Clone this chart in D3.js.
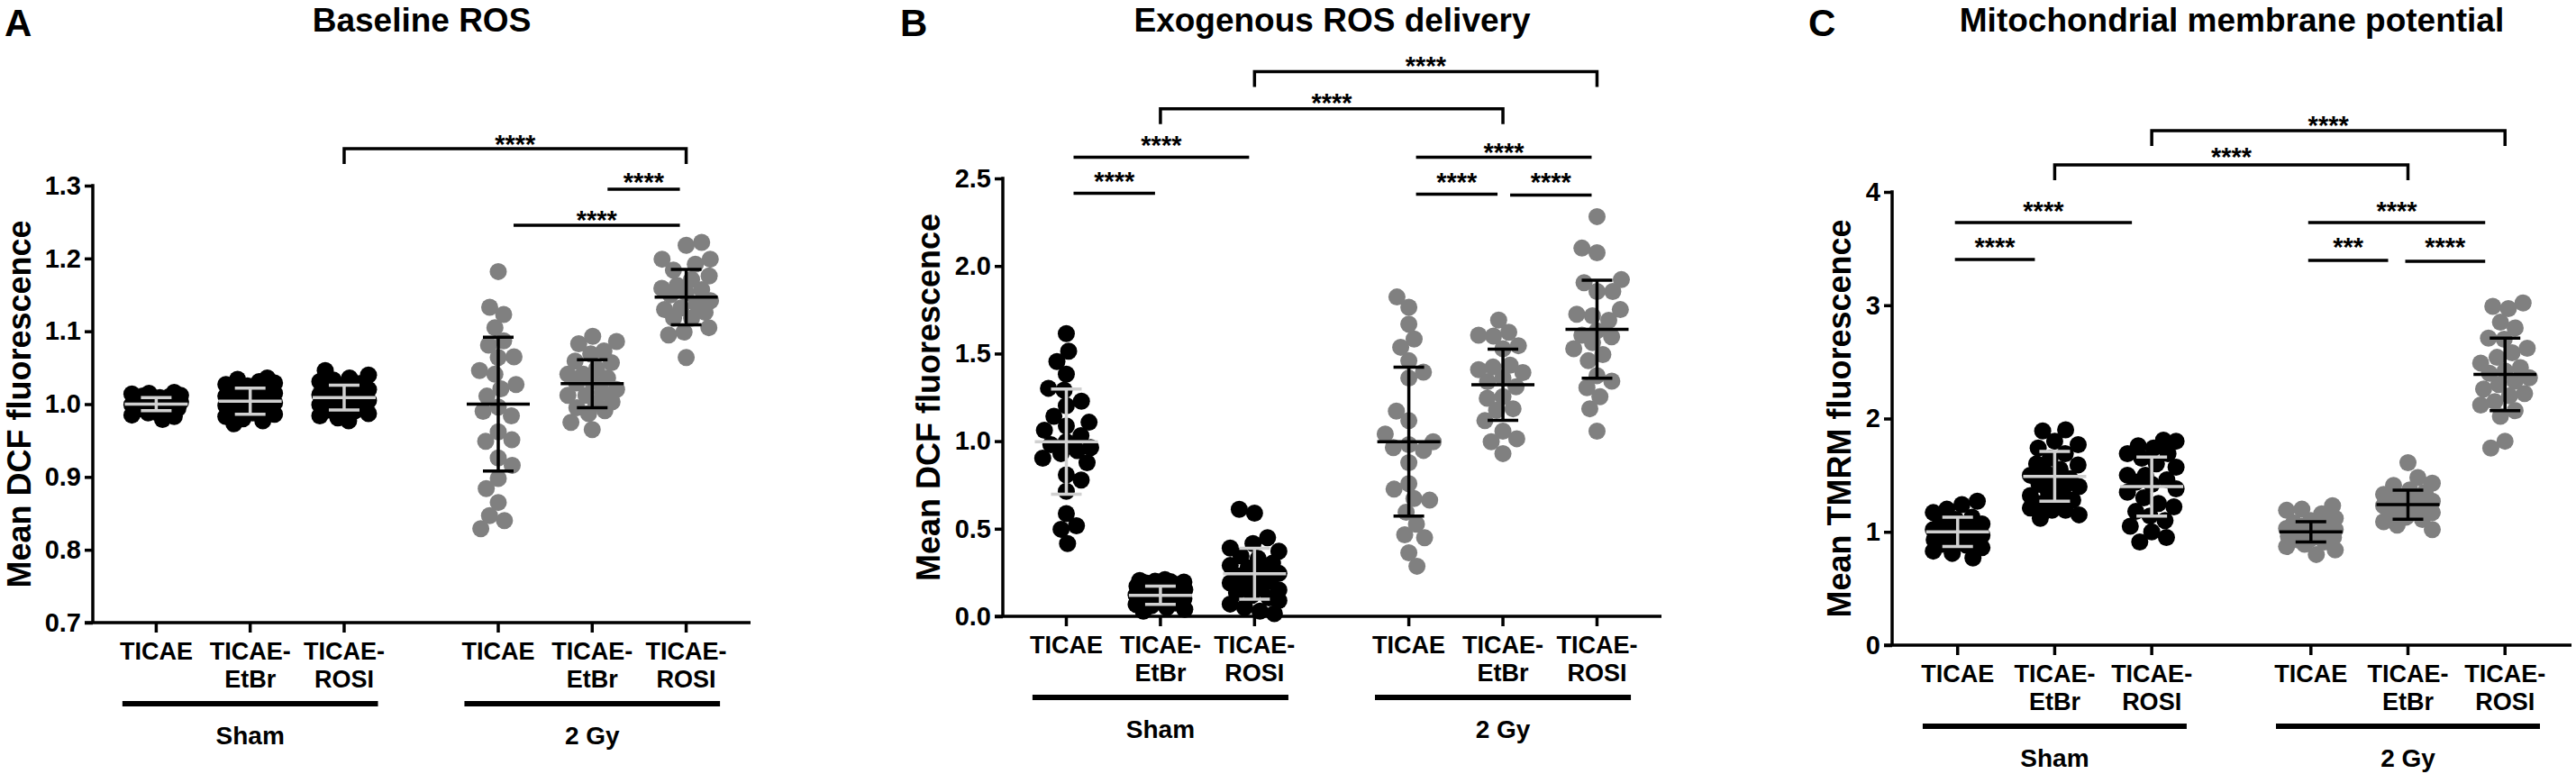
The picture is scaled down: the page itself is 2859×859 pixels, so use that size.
<!DOCTYPE html>
<html><head><meta charset="utf-8">
<script src="https://cdn.jsdelivr.net/npm/d3@7"></script>
<style>
body{margin:0;background:#fff;}
text{font-family:"Liberation Sans",Arial,Helvetica,sans-serif;font-weight:bold;fill:#000;}
</style></head>
<body><svg id="chart" width="2859" height="859"></svg>
<script>
// ---------------- DATA ----------------
const categories = ["TICAE","TICAE-EtBr","TICAE-ROSI","TICAE","TICAE-EtBr","TICAE-ROSI"];
const groupNames = ["Sham","2 Gy"];

// Panel A: Baseline ROS (Mean DCF fluorescence)
const ticksA = [0.7,0.8,0.9,1.0,1.1,1.2,1.3];
const A_sham_TICAE = [1.016,1.014,1.015,1.011,1.012,1.009,1.010,1.007,1.006,1.008,1.004,1.003,1.005,1.001,1.000,1.002,0.999,0.998,0.996,0.997,0.994,0.993,0.991,0.989,0.988,0.985,0.983,0.979];
const A_sham_EtBr  = [1.036,1.034,1.031,1.029,1.027,1.025,1.022,1.020,1.018,1.015,1.013,1.011,1.009,1.006,1.004,1.002,1.000,0.998,0.995,0.993,0.990,0.988,0.986,0.983,0.980,0.977,0.973];
const A_sham_ROSI  = [1.046,1.040,1.036,1.033,1.031,1.028,1.025,1.022,1.020,1.018,1.015,1.013,1.011,1.009,1.007,1.005,1.003,1.001,0.999,0.997,0.994,0.992,0.990,0.987,0.984,0.981,0.977];
const A_gy_TICAE   = [1.182,1.133,1.123,1.105,1.087,1.081,1.064,1.065,1.046,1.041,1.027,1.021,1.011,0.996,0.990,0.984,0.962,0.949,0.951,0.926,0.916,0.898,0.884,0.865,0.847,0.840,0.829];
const A_gy_EtBr    = [1.093,1.086,1.083,1.073,1.069,1.059,1.057,1.049,1.041,1.041,1.036,1.031,1.029,1.020,1.016,1.012,1.012,1.001,1.003,0.995,0.991,0.987,0.975,0.965];
const A_gy_ROSI    = [1.222,1.218,1.199,1.199,1.192,1.184,1.176,1.171,1.163,1.159,1.157,1.153,1.150,1.142,1.138,1.132,1.130,1.126,1.118,1.118,1.105,1.099,1.095,1.064];
const A_means = [1.000,1.004,1.009,1.000,1.028,1.147];
const A_sds   = [0.009,0.018,0.017,0.092,0.033,0.038];
// brackets: [colA, colB, line level, label level, label, hasDrops]
const A_brackets = [[2,5,1.3508,1.3656,"****",true],[4,5,1.2951,1.3136,"****",false],[3,5,1.2456,1.2617,"****",false]];

// Panel B: Exogenous ROS delivery (Mean DCF fluorescence)
const ticksB = [0.0,0.5,1.0,1.5,2.0,2.5];
const B_sham_TICAE = [1.614,1.514,1.454,1.382,1.302,1.291,1.228,1.202,1.142,1.108,1.087,1.062,1.031,0.997,0.980,0.963,0.946,0.929,0.903,0.877,0.808,0.778,0.714,0.586,0.517,0.497,0.415];
const B_sham_EtBr  = [0.205,0.210,0.200,0.198,0.195,0.190,0.185,0.180,0.172,0.165,0.160,0.152,0.145,0.138,0.130,0.122,0.115,0.108,0.100,0.092,0.085,0.076,0.068,0.060,0.050,0.040,0.030];
const B_sham_ROSI  = [0.611,0.589,0.449,0.415,0.390,0.372,0.345,0.330,0.303,0.290,0.277,0.260,0.245,0.230,0.215,0.200,0.190,0.175,0.160,0.150,0.135,0.120,0.105,0.090,0.070,0.050,0.030,0.015];
const B_gy_TICAE   = [1.823,1.764,1.668,1.583,1.536,1.459,1.394,1.360,1.172,1.117,1.040,0.997,0.980,0.963,0.947,0.877,0.757,0.726,0.672,0.663,0.594,0.526,0.466,0.449,0.363,0.286];
const B_gy_EtBr    = [1.691,1.622,1.605,1.600,1.545,1.528,1.434,1.423,1.408,1.391,1.360,1.340,1.310,1.254,1.245,1.185,1.177,1.117,1.057,1.014,0.997,0.929];
const B_gy_ROSI    = [2.282,2.102,2.076,1.922,1.905,1.854,1.854,1.751,1.725,1.716,1.690,1.630,1.605,1.596,1.562,1.528,1.494,1.459,1.374,1.343,1.305,1.254,1.185,1.057];
const B_means = [0.997,0.120,0.243,0.997,1.322,1.639];
const B_sds   = [0.300,0.052,0.145,0.425,0.203,0.280];
const B_brackets = [[0,1,2.415,2.518,"****",false],[0,2,2.621,2.723,"****",false],[1,4,2.898,2.965,"****",true],[2,5,3.109,3.176,"****",true],[3,5,2.621,2.682,"****",false],[3,4,2.410,2.513,"****",false],[4,5,2.405,2.513,"****",false]];

// Panel C: Mitochondrial membrane potential (Mean TMRM fluorescence)
const ticksC = [0,1,2,3,4];
const C_sham_TICAE = [1.27,1.24,1.20,1.17,1.13,1.11,1.08,1.07,1.05,1.03,1.02,1.00,0.99,0.99,0.97,0.96,0.95,0.93,0.92,0.91,0.89,0.88,0.86,0.83,0.81,0.77];
const C_sham_EtBr  = [1.90,1.89,1.80,1.77,1.74,1.69,1.65,1.60,1.59,1.55,1.52,1.50,1.47,1.44,1.42,1.40,1.39,1.35,1.32,1.28,1.28,1.25,1.21,1.19,1.19,1.15,1.12];
const C_sham_ROSI  = [1.81,1.80,1.76,1.74,1.69,1.69,1.65,1.60,1.57,1.50,1.50,1.46,1.44,1.42,1.38,1.35,1.30,1.25,1.22,1.18,1.14,1.10,1.05,1.00,0.95,0.91];
const C_gy_TICAE   = [1.23,1.20,1.19,1.16,1.12,1.10,1.08,1.06,1.05,1.04,1.03,1.02,1.01,1.00,0.99,0.98,0.97,0.96,0.95,0.94,0.93,0.91,0.89,0.87,0.84,0.80];
const C_gy_EtBr    = [1.61,1.48,1.43,1.41,1.37,1.35,1.33,1.31,1.29,1.27,1.26,1.25,1.24,1.23,1.21,1.19,1.17,1.15,1.13,1.11,1.09,1.06,1.02];
const C_gy_ROSI    = [3.02,2.99,2.97,2.85,2.80,2.71,2.70,2.62,2.58,2.54,2.49,2.45,2.42,2.40,2.36,2.33,2.30,2.26,2.22,2.20,2.15,2.12,2.07,2.02,1.80,1.74];
const C_means = [1.00,1.49,1.40,1.00,1.24,2.39];
const C_sds   = [0.13,0.22,0.26,0.09,0.128,0.32];
const C_brackets = [[0,1,3.404,3.571,"****",false],[0,2,3.730,3.889,"****",false],[1,4,4.239,4.366,"****",true],[2,5,4.541,4.644,"****",true],[3,5,3.730,3.889,"****",false],[3,4,3.396,3.571,"***",false],[4,5,3.388,3.571,"****",false]];

// ---------------- LAYOUT ----------------
const panels = [
  {letter:"A", letterX:5, title:"Baseline ROS", ylabel:"Mean DCF fluorescence",
   x0:103, x1:833, yTop:206, yBot:691, domain:[0.7,1.3], ticks:ticksA, fmt:d3.format(".1f"),
   series:[A_sham_TICAE,A_sham_EtBr,A_sham_ROSI,A_gy_TICAE,A_gy_EtBr,A_gy_ROSI],
   means:A_means, sds:A_sds, brackets:A_brackets, lineL:17, lineR:7},
  {letter:"B", letterX:999, title:"Exogenous ROS delivery", ylabel:"Mean DCF fluorescence",
   x0:1113, x1:1844, yTop:198, yBot:684, domain:[0,2.5], ticks:ticksB, fmt:d3.format(".1f"),
   series:[B_sham_TICAE,B_sham_EtBr,B_sham_ROSI,B_gy_TICAE,B_gy_EtBr,B_gy_ROSI],
   means:B_means, sds:B_sds, brackets:B_brackets, lineL:8, lineR:6},
  {letter:"C", letterX:2007, title:"Mitochondrial membrane potential", ylabel:"Mean TMRM fluorescence",
   x0:2100, x1:2854, yTop:213, yBot:716, domain:[0,4], ticks:ticksC, fmt:d3.format("d"),
   series:[C_sham_TICAE,C_sham_EtBr,C_sham_ROSI,C_gy_TICAE,C_gy_EtBr,C_gy_ROSI],
   means:C_means, sds:C_sds, brackets:C_brackets, lineL:-3, lineR:22}
];

const svg = d3.select("#chart");
const LW = 3.5, R = 9.5, SWARM_W = 27, SEP = 0.92;
const slot = i => 0.675 + i + (i >= 3 ? 0.64 : 0);

function swarm(ys, r, maxW, sep) {
  const d = 2 * r * sep;
  const med = d3.median(ys);
  const order = ys.map((v, i) => i).sort((a, b) => Math.abs(ys[a] - med) - Math.abs(ys[b] - med));
  const placed = [];
  const xs = new Array(ys.length).fill(0);
  order.forEach((idx, k) => {
    const y = ys[idx];
    const near = placed.filter(p => Math.abs(p.y - y) < d);
    const ivs = near.map(p => { const h = Math.sqrt(d * d - (p.y - y) ** 2); return [p.x - h, p.x + h]; });
    let cands = [0];
    ivs.forEach(iv => { cands.push(iv[0], iv[1]); });
    cands = cands.filter(c => Math.abs(c) <= maxW && !ivs.some(iv => c > iv[0] + 1e-6 && c < iv[1] - 1e-6));
    let best;
    if (cands.length) {
      const pref = k % 2 === 0 ? 1 : -1;
      cands.sort((a, b) => (Math.abs(a) - Math.abs(b)) || (b * pref - a * pref));
      best = cands[0];
    } else {
      let bestScore = -1;
      for (let c = -maxW; c <= maxW; c += 1) {
        const s = d3.min(near, p => Math.hypot(p.x - c, p.y - y));
        if (s > bestScore) { bestScore = s; best = c; }
      }
    }
    xs[idx] = best;
    placed.push({x: best, y: y});
  });
  return xs;
}

panels.forEach(P => {
  const g = svg.append("g");
  const y = d3.scaleLinear().domain(P.domain).range([P.yBot, P.yTop]);
  const xs = d3.scaleLinear().domain([0, 7]).range([P.x0, P.x1]);
  const s = (P.x1 - P.x0) / 7;
  const cx = i => xs(slot(i));
  const cxMid = (P.x0 + P.x1) / 2;

  // letter and title
  g.append("text").attr("x", P.letterX).attr("y", 40).style("font-size", "42px").text(P.letter);
  g.append("text").attr("x", cxMid).attr("y", 35).attr("text-anchor", "middle").style("font-size", "37px").text(P.title);

  // y axis
  const yAxis = d3.axisLeft(y).tickValues(P.ticks).tickFormat(P.fmt).tickSize(9).tickPadding(4);
  const ya = g.append("g").attr("transform", `translate(${P.x0},0)`).call(yAxis);
  ya.select(".domain").remove();
  ya.selectAll(".tick line").attr("stroke", "#000").attr("stroke-width", LW);
  ya.selectAll(".tick text").style("font-size", "29px").style("font-family", '"Liberation Sans",Arial,sans-serif').style("font-weight", "bold").attr("fill", "#000");
  g.append("line").attr("x1", P.x0).attr("x2", P.x0).attr("y1", y(P.domain[1]) - LW / 2).attr("y2", P.yBot)
    .attr("stroke", "#000").attr("stroke-width", LW);

  // x axis
  g.append("line").attr("x1", P.x0 - 9).attr("x2", P.x1).attr("y1", P.yBot).attr("y2", P.yBot)
    .attr("stroke", "#000").attr("stroke-width", LW);
  categories.forEach((c, i) => {
    g.append("line").attr("x1", cx(i)).attr("x2", cx(i)).attr("y1", P.yBot).attr("y2", P.yBot + 11)
      .attr("stroke", "#000").attr("stroke-width", LW);
    const parts = c.includes("-") ? [c.split("-")[0] + "-", c.split("-")[1]] : [c];
    parts.forEach((t, k) => {
      g.append("text").attr("x", cx(i)).attr("y", P.yBot + 41 + k * 31).attr("text-anchor", "middle")
        .style("font-size", "27px").text(t);
    });
  });

  // group bars and labels
  groupNames.forEach((gn, gi) => {
    const a = cx(gi * 3) - 0.36 * s, b = cx(gi * 3 + 2) + 0.36 * s;
    g.append("line").attr("x1", a).attr("x2", b).attr("y1", P.yBot + 90).attr("y2", P.yBot + 90)
      .attr("stroke", "#000").attr("stroke-width", 6);
    g.append("text").attr("x", (a + b) / 2).attr("y", P.yBot + 135).attr("text-anchor", "middle")
      .style("font-size", "28px").text(gn);
  });

  // y label
  const tw = d3.max(ya.selectAll(".tick text").nodes(), n => n.getComputedTextLength());
  const lx = Math.max(21, P.x0 - 13 - tw - 30);
  g.append("text").attr("transform", `translate(${lx},${(P.yTop + P.yBot) / 2}) rotate(-90)`)
    .attr("text-anchor", "middle").attr("dy", "0.36em").style("font-size", "36px").text(P.ylabel);

  // dots
  P.series.forEach((vals, i) => {
    const py = vals.map(v => y(v));
    const off = swarm(py, R, SWARM_W, SEP);
    g.append("g").selectAll("circle").data(vals).join("circle")
      .attr("cx", (v, k) => cx(i) + off[k]).attr("cy", v => y(v)).attr("r", R)
      .attr("fill", i < 3 ? "#000" : "#808080");
  });

  // error bars
  P.means.forEach((m, i) => {
    const col = i < 3 ? "#d0d0d0" : "#000";
    const sd = P.sds[i], x = cx(i);
    const eg = g.append("g").attr("stroke", col).attr("stroke-width", LW);
    eg.append("line").attr("x1", x).attr("x2", x).attr("y1", y(m + sd)).attr("y2", y(m - sd));
    eg.append("line").attr("x1", x - 17).attr("x2", x + 17).attr("y1", y(m + sd)).attr("y2", y(m + sd));
    eg.append("line").attr("x1", x - 17).attr("x2", x + 17).attr("y1", y(m - sd)).attr("y2", y(m - sd));
    eg.append("line").attr("x1", x - 35).attr("x2", x + 35).attr("y1", y(m)).attr("y2", y(m));
  });

  // significance brackets
  P.brackets.forEach(([a, b, lv, tv, lab, drop]) => {
    const ly = y(lv);
    let xa = cx(a), xb = cx(b);
    if (!drop) { xa += P.lineL; xb -= P.lineR; }
    if (drop) {
      g.append("path").attr("d", `M${xa},${ly + 17}V${ly}H${xb}V${ly + 17}`)
        .attr("fill", "none").attr("stroke", "#000").attr("stroke-width", LW);
    } else {
      g.append("line").attr("x1", xa).attr("x2", xb).attr("y1", ly).attr("y2", ly)
        .attr("stroke", "#000").attr("stroke-width", LW);
    }
    g.append("text").attr("x", (xa + xb) / 2).attr("y", y(tv) + 0.575 * 29).attr("text-anchor", "middle")
      .style("font-size", "29px").text(lab);
  });
});
</script></body></html>
